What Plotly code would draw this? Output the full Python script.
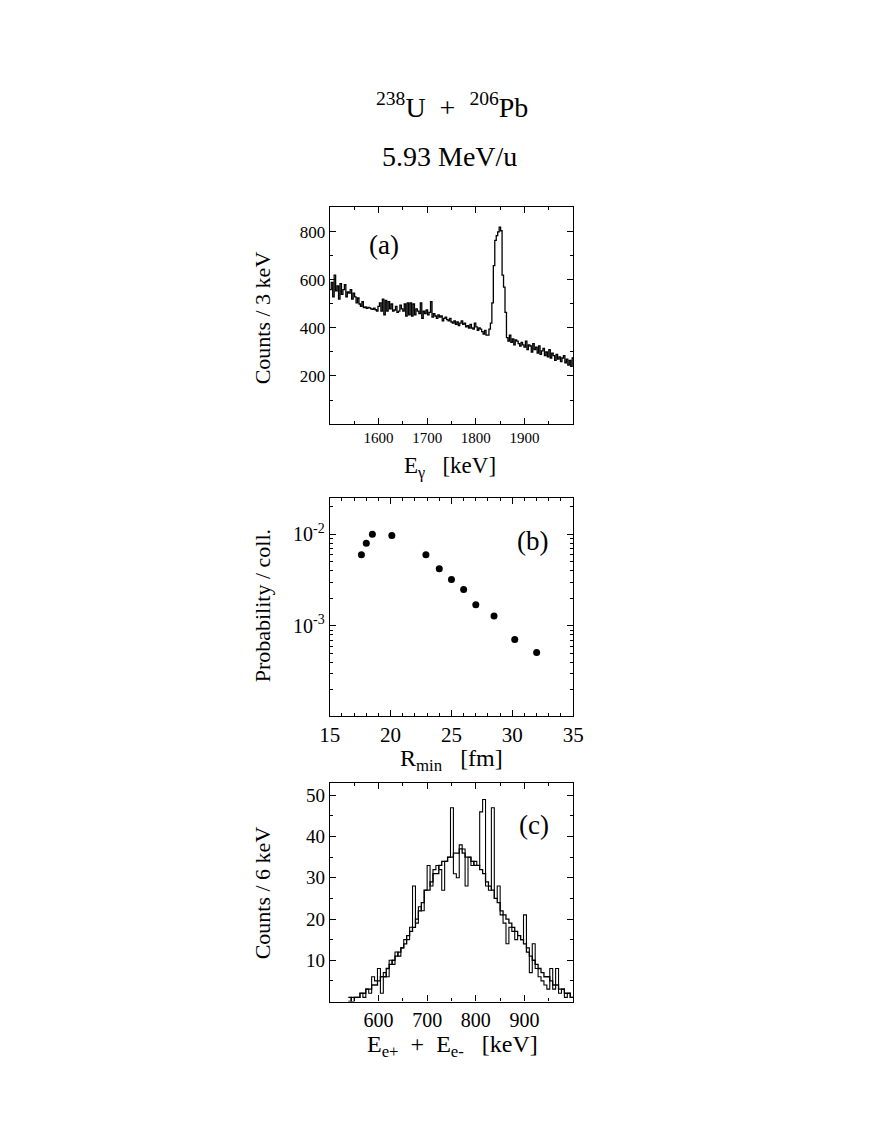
import plotly.graph_objects as go

FONT = "Liberation Serif"

# (a) gamma spectrum, 3 keV bins starting at 1500 keV
ga_start = 1500
ga_width = 3
ga_counts = [
    560, 590, 530, 620, 555, 575, 520, 585, 540, 560, 580, 530, 550, 545,
    560, 520, 545, 530, 505, 525, 500, 490, 510, 485, 488, 482, 486,
    484, 480, 478, 483, 476, 470, 490, 505, 470, 520, 455, 515, 470,
    510, 480, 500, 470, 475, 490, 465, 470, 495, 480, 470, 500, 450,
    505, 455, 505, 450, 500, 455, 480, 470, 460, 505, 440, 470, 460,
    475, 455, 465, 510, 445, 460, 450, 440, 455, 445, 450, 430, 440, 445,
    435, 430, 440, 425, 420, 430, 415, 425, 410, 420, 430, 415, 420, 405, 410, 400, 415,
    400, 395, 420, 405, 390, 400, 395, 385, 375, 390, 370,
    370, 395, 420, 505, 660, 765, 785, 800, 820, 805, 620, 570, 465, 360,
    345, 370, 340, 355, 330, 350, 345, 335, 325, 340, 330, 320, 345, 310, 330,
    325, 300, 335, 310, 320, 295, 325, 290, 305, 315, 285, 300, 280, 310, 275,
    295, 285, 265, 290, 270, 280, 260, 275, 285, 255, 270, 245, 265, 240, 275,
]

# (b) probability per collision vs minimum distance
r_min = [17.6, 18.0, 18.5, 20.1, 22.9, 24.0, 25.0, 26.0, 27.0, 28.5, 30.2, 32.0]
prob = [6.0e-3, 8.0e-3, 1.0e-2, 9.7e-3, 6.0e-3, 4.2e-3, 3.2e-3, 2.5e-3,
        1.7e-3, 1.28e-3, 7.1e-4, 5.1e-4]

# (c) sum energy spectra, 6 keV bins starting at 538 keV
ee_start = 538
ee_width = 6
ee_counts = [
    1, 0, 1, 1, 2, 1, 3, 2, 6, 5, 8, 2, 7, 6, 10, 9, 12, 11, 13, 15,
    15, 18, 28, 19, 23, 22, 27, 33, 28, 32, 33, 32, 27, 34, 35, 47, 31, 30, 38, 37,
    28, 35, 33, 34, 33, 46, 49, 28, 27, 47, 25, 28, 21, 19, 14, 18, 17, 15, 16, 15,
    21, 13, 7, 14, 8, 6, 5, 4, 3, 8, 3, 8, 2, 3, 1, 2, 1,
]
ee_ref = [
    0, 1, 1, 1, 2, 2, 3, 3, 4, 4, 5, 6, 6, 8, 9, 10, 11, 12, 13, 14,
    16, 17, 18, 20, 22, 24, 27, 27, 29, 31, 31, 33, 34, 34, 35, 35, 36, 36, 37, 36,
    35, 35, 34, 33, 33, 32, 31, 29, 28, 27, 25, 24, 22, 21, 20, 19, 18, 17, 16, 15,
    14, 12, 11, 10, 9, 8, 7, 6, 6, 5, 4, 4, 3, 3, 2, 2, 1,
]

W, H = 884, 1144
OFF = 8  # page body margin


def px(x):
    return (x - OFF) / W


def py(y):
    return 1 - (y - OFF) / H


def steps(start, width, counts):
    edges = [start + width * i for i in range(len(counts) + 1)]
    return edges, counts + [counts[-1]]


fig = go.Figure()

x, y = steps(ga_start, ga_width, ga_counts)
fig.add_trace(go.Scatter(x=x, y=y, mode="lines", line_shape="hv",
                         line=dict(color="black", width=1.3),
                         xaxis="x", yaxis="y", showlegend=False))

fig.add_trace(go.Scatter(x=r_min, y=prob, mode="markers",
                         marker=dict(color="black", size=7),
                         xaxis="x2", yaxis="y2", showlegend=False))

x, y = steps(ee_start, ee_width, ee_ref)
fig.add_trace(go.Scatter(x=x, y=y, mode="lines", line_shape="hv",
                         line=dict(color="black", width=1.3),
                         xaxis="x3", yaxis="y3", showlegend=False))
x, y = steps(ee_start, ee_width, ee_counts)
fig.add_trace(go.Scatter(x=x, y=y, mode="lines", line_shape="hv",
                         line=dict(color="black", width=1.1),
                         xaxis="x3", yaxis="y3", showlegend=False))


def ax(size, **kw):
    d = dict(showline=True, linecolor="black", linewidth=1.2, mirror="ticks",
             ticks="inside", ticklen=6, tickwidth=1, tickcolor="black",
             showgrid=False, zeroline=False,
             tickfont=dict(family=FONT, size=size, color="black"))
    d.update(kw)
    return d


def minor(vals):
    return dict(tickvals=vals, ticks="inside", ticklen=3, tickcolor="black", showgrid=False)


log_minor = [m * 10 ** e for e in (-4, -3, -2) for m in range(2, 10)]

fig.update_layout(
    width=W, height=H, autosize=False,
    margin=dict(l=0, r=0, t=0, b=0),
    paper_bgcolor="white", plot_bgcolor="white",
    font=dict(family=FONT, color="black"),
    xaxis=ax(15, domain=[px(327), px(576)], anchor="y", range=[1500, 2000],
             tickvals=[1600, 1700, 1800, 1900],
             minor=minor([1550, 1650, 1750, 1850, 1950])),
    yaxis=ax(17, domain=[py(424), py(207)], anchor="x", range=[0, 904],
             tickvals=[200, 400, 600, 800],
             minor=minor([100, 300, 500, 700, 900])),
    xaxis2=ax(21, domain=[px(327), px(576)], anchor="y2", range=[15, 35],
              tickvals=[15, 20, 25, 30, 35],
              minor=minor([v for v in range(16, 35) if v % 5])),
    yaxis2=ax(20, domain=[py(716), py(498)], anchor="x2", type="log",
              range=[-3.985, -1.603], tickvals=[1e-3, 1e-2],
              ticktext=["10<sup>-3</sup>", "10<sup>-2</sup>"],
              minor=minor(log_minor)),
    xaxis3=ax(20, domain=[px(327), px(576)], anchor="y3", range=[500, 1000],
              tickvals=[600, 700, 800, 900],
              minor=minor([550, 650, 750, 850, 950])),
    yaxis3=ax(19, domain=[py(1001.5), py(783)], anchor="x3", range=[0, 53],
              tickvals=[10, 20, 30, 40, 50],
              minor=minor([5, 15, 25, 35, 45])),
)


def label(x, y, text, size, angle=0):
    fig.add_annotation(x=px(x), y=py(y), xref="paper", yref="paper", text=text,
                       showarrow=False, textangle=angle, xanchor="center", yanchor="middle",
                       font=dict(family=FONT, size=size, color="black"))


label(452, 106, "<sup>238</sup>U  +  <sup>206</sup>Pb", 28)
label(449, 157, "5.93 MeV/u", 28)

label(382, 245, "(a)", 27)
label(534, 541, "(b)", 27)
label(536, 825, "(c)", 27)

label(258, 318, "Counts / 3 keV", 22, -90)
label(450, 467, "E<sub>γ</sub>   [keV]", 23)
label(258, 606, "Probability / coll.", 22, -90)
label(452, 760, "R<sub>min</sub>   [fm]", 24)
label(258, 893, "Counts / 6 keV", 22, -90)
label(453, 1046, "E<sub>e+</sub>  +  E<sub>e-</sub>   [keV]", 24)

fig.write_html("out.html")
